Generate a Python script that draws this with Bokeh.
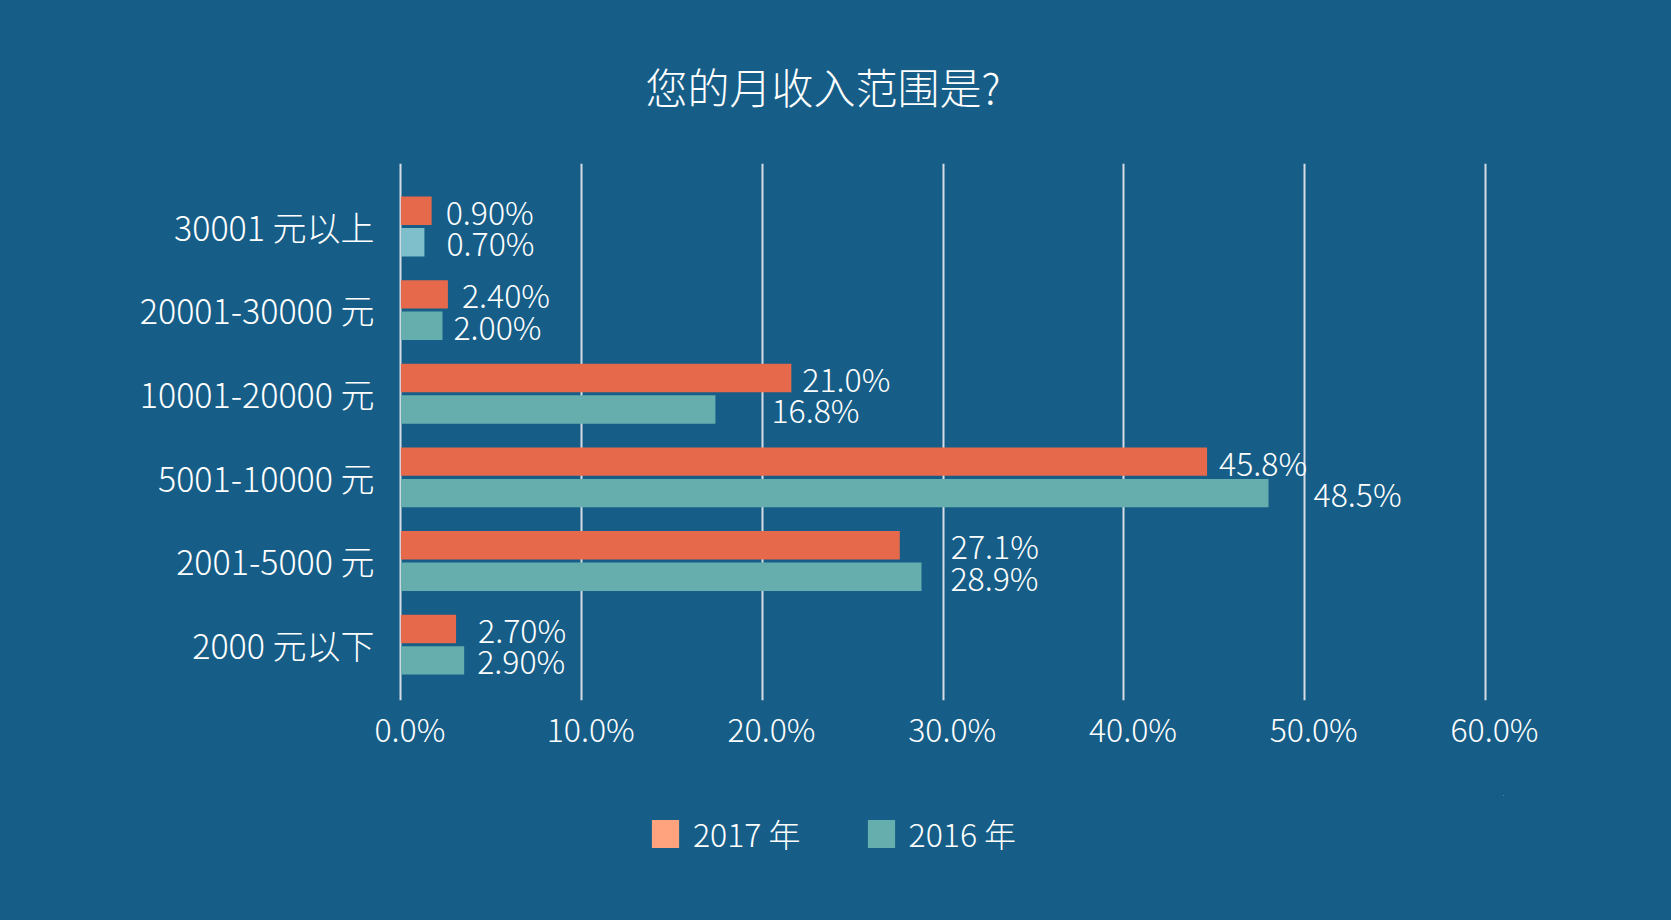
from bokeh.plotting import figure
from bokeh.layouts import column
from bokeh.models import (ColumnDataSource, Range1d, LinearAxis, FixedTicker,
                          Legend, LegendItem, Title)
from bokeh.transform import dodge
from bokeh.core.properties import value
from bokeh.embed import file_html
from bokeh.resources import INLINE

# ---------------- data (top to bottom, as in the picture) ----------------
categories = ["30001 元以上", "20001-30000 元", "10001-20000 元",
              "5001-10000 元", "2001-5000 元", "2000 元以下"]
series = ["2017 年", "2016 年"]
# bar lengths as drawn (percent)
bars_2017 = [1.7, 2.6, 21.6, 44.6, 27.6, 3.05]
bars_2016 = [1.3, 2.3, 17.4, 48.0, 28.8, 3.5]
# value labels as printed
labels_2017 = ["0.90%", "2.40%", "21.0%", "45.8%", "27.1%", "2.70%"]
labels_2016 = ["0.70%", "2.00%", "16.8%", "48.5%", "28.9%", "2.90%"]
x_ticks = [0, 10, 20, 30, 40, 50, 60]
x_tick_labels = ["0.0%", "10.0%", "20.0%", "30.0%", "40.0%", "50.0%", "60.0%"]
title_text = "您的月收入范围是?"

# ---------------- styles ----------------
FONT = "Noto Sans CJK SC Light, Noto Sans CJK SC"
BG = "#165E88"
ORANGE = "#E6694B"
TEAL = "#66AEAD"
LIGHT_BLUE = "#7EBFCB"
LEG_ORANGE = "#FFA37E"
GRID = "#D5DCE3"
TXT = "#FFFFFF"
teal_colors = [LIGHT_BLUE] + [TEAL] * (len(categories) - 1)
label_dx_2017 = [14, 14, 11, 12, 51, 22]   # px gap between bar end and label
label_dx_2016 = [22, 11, 56, 45, 29, 13]

n = len(categories)
ypos = [n - 1 - i for i in range(n)]

src = ColumnDataSource(dict(
    y=ypos, cat=categories, v17=bars_2017, v16=bars_2016,
    l17=labels_2017, l16=labels_2016, c16=teal_colors,
    dx17=label_dx_2017, dx16=label_dx_2016,
))

TOP_H = 775
BORDER_L, BORDER_R = 395, 168
fig = figure(width=1671, height=TOP_H,
             x_range=Range1d(-0.3, 61), y_range=Range1d(-0.67, 5.751),
             output_backend="svg", toolbar_location=None,
             x_axis_location=None, y_axis_location="left",
             min_border_left=BORDER_L, min_border_right=BORDER_R,
             min_border_top=163, min_border_bottom=TOP_H - 700,
             background_fill_color=None, border_fill_color=None,
             outline_line_color=None)
fig.styles = {"background-color": BG}

# title
fig.add_layout(Title(text=title_text, align="left", offset=250, standoff=96,
                     text_font=FONT, text_font_size="42px", text_color=TXT,
                     text_font_style="normal"), "above")

# grid
fig.ygrid.visible = False
fig.xgrid.ticker = FixedTicker(ticks=x_ticks)
fig.xgrid.grid_line_color = GRID
fig.xgrid.grid_line_width = 2

# y axis (categories)
fig.yaxis.ticker = FixedTicker(ticks=ypos)
fig.yaxis.major_label_overrides = {y: c for y, c in zip(ypos, categories)}
fig.yaxis.axis_line_color = None
fig.yaxis.major_tick_line_color = None
fig.yaxis.minor_tick_line_color = None
fig.yaxis.major_tick_out = 0
fig.yaxis.major_tick_in = 0
fig.yaxis.major_label_standoff = 21
fig.yaxis.major_label_text_font = FONT
fig.yaxis.major_label_text_font_size = "34px"
fig.yaxis.major_label_text_color = TXT

# x axis (tick labels sit slightly right of the grid lines)
fig.extra_x_ranges = {"lab": Range1d(-0.8, 60.5)}
xax = LinearAxis(x_range_name="lab", ticker=FixedTicker(ticks=x_ticks),
                 major_label_overrides={t: s for t, s in zip(x_ticks, x_tick_labels)},
                 axis_line_color=None, major_tick_line_color=None,
                 minor_tick_line_color=None, major_tick_out=0, major_tick_in=0,
                 major_label_standoff=4,
                 major_label_text_font=FONT, major_label_text_font_size="32px",
                 major_label_text_color=TXT)
fig.add_layout(xax, "below")

# bars
fig.hbar(y=dodge("y", 0.186, range=fig.y_range), left=0, right="v17", height=0.34,
         source=src, fill_color=ORANGE, line_color=None)
fig.hbar(y=dodge("y", -0.19, range=fig.y_range), left=0, right="v16", height=0.34,
         source=src, fill_color="c16", line_color=None)

# value labels
fig.text(x="v17", y=dodge("y", 0.186, range=fig.y_range), text="l17", x_offset="dx17",
         source=src, text_align="left", text_baseline="middle",
         text_font=value(FONT), text_font_size="32px", text_color=TXT)
fig.text(x="v16", y=dodge("y", -0.19, range=fig.y_range), text="l16", x_offset="dx16",
         source=src, text_align="left", text_baseline="middle",
         text_font=value(FONT), text_font_size="32px", text_color=TXT)

# ---------------- legend strip below the chart ----------------
LEG_H = 920 - TOP_H
LEG_TOP = 20
leg = figure(width=1671, height=LEG_H, x_range=Range1d(-2, -1), y_range=Range1d(-2, -1),
             output_backend="svg", toolbar_location=None,
             x_axis_location=None, y_axis_location=None,
             min_border_left=BORDER_L, min_border_right=BORDER_R,
             min_border_top=LEG_TOP, min_border_bottom=0,
             background_fill_color=None, border_fill_color=None,
             outline_line_color=None)
leg.styles = {"background-color": BG}
leg.grid.visible = False
leg.xgrid.grid_line_color = None
leg.ygrid.grid_line_color = None
# zero-size proxies outside the strip's view: only their legend swatches are seen
r_l17 = leg.hbar(y="y", left="v17", right="v17", height=0, source=src,
                 fill_color=LEG_ORANGE, line_color=None)
r_l16 = leg.hbar(y="y", left="v16", right="v16", height=0, source=src,
                 fill_color=TEAL, line_color=None)
legend = Legend(items=[LegendItem(label=series[0], renderers=[r_l17]),
                       LegendItem(label=series[1], renderers=[r_l16])],
                orientation="horizontal", location=(253, 64),
                background_fill_alpha=0, border_line_color=None,
                glyph_width=34, glyph_height=35, label_height=35,
                label_standoff=11, spacing=63, padding=0, margin=0,
                label_text_font=FONT, label_text_font_size="32px",
                label_text_color=TXT)
leg.add_layout(legend, "center")

p = column(fig, leg, spacing=0)
p.styles = {"background-color": BG}

open("out.html", "w").write(file_html(p, INLINE))
